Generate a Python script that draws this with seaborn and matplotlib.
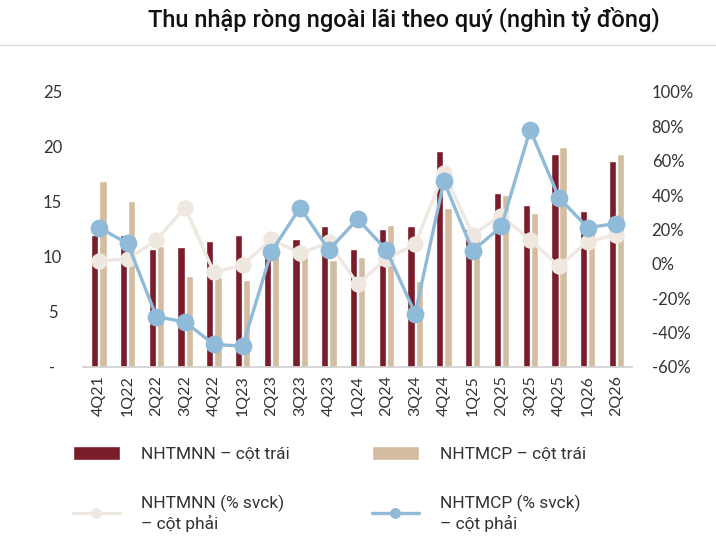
import numpy as np
import pandas as pd
import matplotlib
matplotlib.use("Agg")
import matplotlib.pyplot as plt
import seaborn as sns

# quarters and values
quarters = ["4Q21", "1Q22", "2Q22", "3Q22", "4Q22", "1Q23", "2Q23", "3Q23", "4Q23", "1Q24",
            "2Q24", "3Q24", "4Q24", "1Q25", "2Q25", "3Q25", "4Q25", "1Q26", "2Q26"]
nhtmnn = [12.0, 12.0, 10.7, 10.9, 11.4, 12.0, 12.2, 11.6, 12.8, 10.7,
          12.5, 12.8, 19.6, 12.5, 15.8, 14.7, 19.4, 14.2, 18.7]
nhtmcp = [16.9, 15.1, 11.0, 8.3, 8.2, 7.9, 11.5, 10.5, 9.7, 10.0,
          12.9, 7.8, 14.4, 11.8, 15.6, 14.0, 20.0, 13.0, 19.4]
nhtmnn_pct = [1.7, 2.7, 13.8, 32.7, -5.0, -0.8, 14.3, 6.0, 12.4, -11.8,
              2.7, 11.4, 53.0, 17.0, 28.0, 13.8, -1.5, 12.8, 17.0]
nhtmcp_pct = [21.0, 11.8, -30.8, -34.0, -47.0, -48.0, 7.0, 32.7, 8.0, 26.0,
              8.0, -29.0, 48.0, 7.5, 21.7, 78.0, 38.5, 21.0, 23.4]

title = "Thu nhập ròng ngoài lãi theo quý (nghìn tỷ đồng)"
labels = ["NHTMNN – cột trái", "NHTMNN (% svck)\n– cột phải",
          "NHTMCP – cột trái", "NHTMCP (% svck)\n– cột phải"]

c_dark = "#7A1C2A"
c_tan = "#D3BC9F"
c_cream = "#EFE8E1"
c_blue = "#8FBAD8"
txt = "#333333"

sns.set_theme(style="white")
plt.rcParams["font.family"] = ["Lato", "DejaVu Sans"]

bars = pd.DataFrame({
    "quarter": quarters * 2,
    "bank": ["NHTMNN"] * len(quarters) + ["NHTMCP"] * len(quarters),
    "value": nhtmnn + nhtmcp,
})

fig = plt.figure(figsize=(7.16, 5.54), dpi=100)
ax = fig.add_axes([0.116, 0.338, 0.767, 0.496])

sns.barplot(data=bars, x="quarter", y="value", hue="bank", order=quarters,
            palette=[c_dark, c_tan], width=0.56, gap=0.1, legend=False,
            saturation=1, ax=ax)

ax2 = ax.twinx()
sns.pointplot(x=quarters, y=nhtmnn_pct, order=quarters, color=c_cream, errorbar=None,
              markers="o", markersize=10, linewidth=2.4, ax=ax2)
sns.pointplot(x=quarters, y=nhtmcp_pct, order=quarters, color=c_blue, errorbar=None,
              markers="o", markersize=11, linewidth=2.4, ax=ax2)

ax.set_ylim(0, 25)
ax.set_yticks(np.arange(0, 26, 5))
ax.set_yticklabels(["-" if v == 0 else f"{v}" for v in range(0, 26, 5)],
                   fontsize=12, color=txt, ha="center")
ax.tick_params(axis="y", pad=22, length=0)
ax2.set_ylim(-60, 100)
ax2.set_yticks(np.arange(-60, 101, 20))
ax2.set_yticklabels([f"{v}%" for v in range(-60, 101, 20)], fontsize=12, color=txt)
ax2.tick_params(axis="y", pad=14, length=0)

ax.set_xlim(-0.55, len(quarters) - 0.45)
ax.set_xticks(range(len(quarters)))
ax.set_xticklabels(quarters, rotation=90, fontsize=11.5, color=txt)
ax.tick_params(axis="x", length=0, pad=6)
ax.set_xlabel("")
ax.set_ylabel("")
ax2.set_ylabel("")
ax2.set_xlabel("")

for a in (ax, ax2):
    for s in ("left", "right", "top"):
        a.spines[s].set_visible(False)
    a.spines["bottom"].set_color("#d0d0d0")
    a.grid(False)
ax2.spines["bottom"].set_visible(False)

fig.text(0.564, 0.966, title, ha="center", va="center", fontsize=17, fontweight="medium",
         color="#111111", family=["Roboto", "DejaVu Sans"])
fig.add_artist(plt.Line2D([0, 1], [0.918, 0.918], color="#d9d9d9", lw=1))

handles = [ax.containers[0], ax2.lines[0], ax.containers[1], ax2.lines[1]]
leg = fig.legend(handles, labels, ncol=2, loc="upper left", bbox_to_anchor=(0.08, 0.2225),
                 frameon=False, handlelength=2.7, handleheight=0.8,
                 handletextpad=1.2, columnspacing=4.75, labelspacing=1.9,
                 prop={"family": ["Roboto", "DejaVu Sans"], "size": 12.5})
for t in leg.get_texts():
    t.set_color(txt)
for h in leg.legend_handles:
    if hasattr(h, "set_markersize"):
        h.set_markersize(6)

fig.savefig("out.png", dpi=100)
